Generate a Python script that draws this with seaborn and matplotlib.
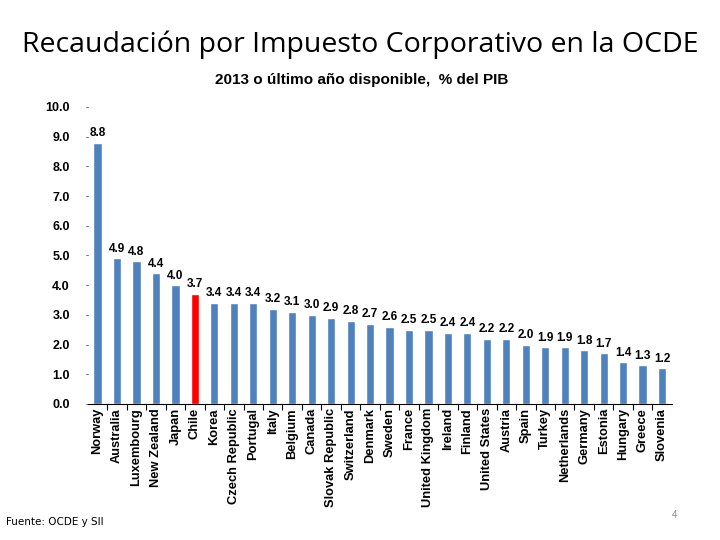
import matplotlib
matplotlib.use("Agg")
import matplotlib.pyplot as plt
import seaborn as sns
import pandas as pd
import numpy as np

countries = ["Norway", "Australia", "Luxembourg", "New Zealand", "Japan", "Chile", "Korea",
             "Czech Republic", "Portugal", "Italy", "Belgium", "Canada", "Slovak Republic",
             "Switzerland", "Denmark", "Sweden", "France", "United Kingdom", "Ireland", "Finland",
             "United States", "Austria", "Spain", "Turkey", "Netherlands", "Germany", "Estonia",
             "Hungary", "Greece", "Slovenia"]
values = [8.8, 4.9, 4.8, 4.4, 4.0, 3.7, 3.4, 3.4, 3.4, 3.2, 3.1, 3.0, 2.9, 2.8, 2.7, 2.6,
          2.5, 2.5, 2.4, 2.4, 2.2, 2.2, 2.0, 1.9, 1.9, 1.8, 1.7, 1.4, 1.3, 1.2]
highlight = "Chile"
y_ticks = [0, 1, 2, 3, 4, 5, 6, 7, 8, 9, 10]

df = pd.DataFrame({"country": countries, "value": values})
df["group"] = np.where(df["country"] == highlight, "hl", "base")

sns.set_style("white")
plt.rcParams["font.family"] = ["Liberation Sans", "DejaVu Sans"]
plt.rcParams["text.color"] = "black"
plt.rcParams["xtick.color"] = "black"
plt.rcParams["ytick.color"] = "black"

fig = plt.figure(figsize=(7.2, 5.4), dpi=100)
ax = fig.add_axes([0.122, 0.252, 0.811, 0.55])

sns.barplot(data=df, x="country", y="value", hue="group",
            palette={"base": "#4F81BD", "hl": "#FF0000"}, dodge=False,
            width=0.42, legend=False, ax=ax, saturation=1)

for i, v in enumerate(values):
    ax.text(i, v + 0.12, f"{v:.1f}", ha="center", va="bottom", fontsize=8.5,
            fontweight="bold", color="black")

ax.set_ylim(0, 10)
ax.set_xlim(-0.5, len(countries) - 0.5)
ax.set_yticks(y_ticks)
ax.set_yticklabels([f"{t:.1f}" for t in y_ticks], fontsize=9, fontweight="bold")
ax.tick_params(axis="y", length=0, pad=13, left=False, right=False)
for t in y_ticks:
    ax.plot([-0.62, -0.48], [t, t], color="#777777", lw=0.7, clip_on=False, transform=ax.transData)

ax.set_xticks(range(len(countries)))
ax.set_xticklabels(countries, rotation=90, fontsize=9.3, fontweight="bold")
ax.tick_params(axis="x", length=0, pad=3)
ax.set_xticks(np.arange(0.5, len(countries) - 0.5, 1.0), minor=True)
ax.tick_params(axis="x", which="minor", length=4, width=0.8, color="black", direction="out", bottom=True)

ax.set_xlabel("")
ax.set_ylabel("")
for s in ["top", "right", "left"]:
    ax.spines[s].set_visible(False)
ax.spines["bottom"].set_color("black")
ax.spines["bottom"].set_linewidth(0.8)

fig.text(0.5, 0.917, "Recaudación por Impuesto Corporativo en la OCDE", ha="center", va="center",
         fontsize=20.5, color="black", family=["Open Sans", "DejaVu Sans"])
fig.text(0.503, 0.852, "2013 o último año disponible,  % del PIB", ha="center", va="center",
         fontsize=11, fontweight="bold", color="black")
fig.text(0.008, 0.033, "Fuente: OCDE y SII", ha="left", va="center", fontsize=7.5,
         family=["DejaVu Sans"], color="black")
fig.text(0.937, 0.047, "4", ha="center", va="center", fontsize=7, color="#888888")

fig.savefig("out.png", dpi=100)
